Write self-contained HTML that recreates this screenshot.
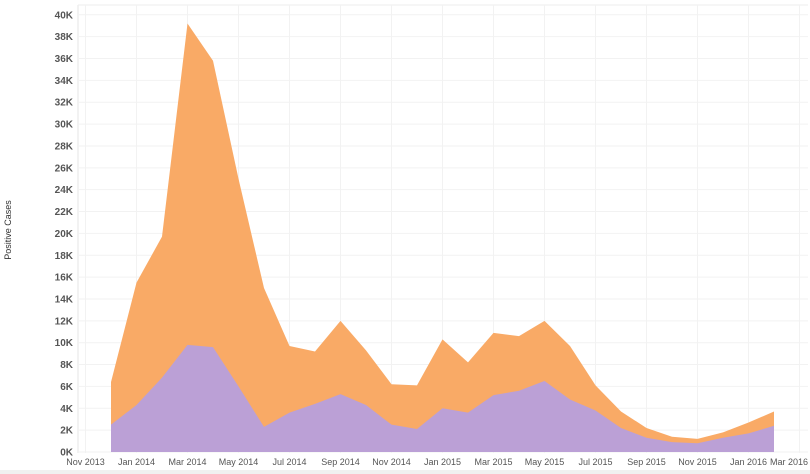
<!DOCTYPE html>
<html><head><style>
html,body{margin:0;padding:0;background:#fff;}
svg{display:block;font-family:"Liberation Sans",sans-serif;}
</style></head><body>
<svg id="c" width="810" height="474" xmlns="http://www.w3.org/2000/svg">
<text x="11" y="230" transform="rotate(-90 11 230)" text-anchor="middle" font-size="9" fill="#333">Positive Cases</text>
<line x1="78" y1="5" x2="78" y2="453" stroke="#e6e6e6"/>
<line x1="78" y1="5" x2="808" y2="5" stroke="#eee"/>
<g id="grid"></g>
<g id="areas"></g>
<g id="lab" font-size="10" fill="#555"></g>
<rect x="0" y="470" width="810" height="4" fill="#f0f0f0"/>
</svg>
<script>
var ns="http://www.w3.org/2000/svg";
function el(t,a,p,txt){var e=document.createElementNS(ns,t);for(var k in a)e.setAttribute(k,a[k]);if(txt!=null)e.textContent=txt;p.appendChild(e);return e;}
var y0=452,sk=10.93;function Y(v){return y0-v*sk;}
var x0=111,dx=25.5;function X(i){return x0+i*dx;}
var g=document.getElementById('grid'),l=document.getElementById('lab'),a=document.getElementById('areas');
for(var k=0;k<=40;k+=2){var y=Y(k);el('line',{x1:78,y1:y,x2:808,y2:y,stroke:'#f2f2f2'},g);el('text',{x:73,y:y+3.5,'text-anchor':'end','font-weight':'bold'},l,k+'K');}
var months=['Nov 2013','Jan 2014','Mar 2014','May 2014','Jul 2014','Sep 2014','Nov 2014','Jan 2015','Mar 2015','May 2015','Jul 2015','Sep 2015','Nov 2015','Jan 2016','Mar 2016'];
for(var i=0;i<months.length;i++){var x=X(-1+2*i);el('line',{x1:x,y1:5,x2:x,y2:453,stroke:'#f2f2f2'},g);
el('text',{x:(i==14?789:x),y:465,'text-anchor':'middle','font-size':'9'},l,months[i]);}
var tot=[6.4,15.5,19.7,39.2,35.8,25,15,9.7,9.2,12,9.3,6.2,6.1,10.3,8.2,10.9,10.6,12,9.7,6.1,3.7,2.2,1.4,1.2,1.8,2.7,3.7];
var pur=[2.5,4.3,6.8,9.8,9.6,6,2.3,3.6,4.4,5.3,4.3,2.5,2.1,4,3.6,5.2,5.6,6.5,4.8,3.8,2.2,1.3,0.9,0.8,1.3,1.7,2.4];
function poly(arr,c){var p='M'+X(0)+','+y0;arr.forEach(function(v,i){p+=' L'+X(i)+','+Y(v);});p+=' L'+X(arr.length-1)+','+y0+'Z';el('path',{d:p,fill:c},a);}
poly(tot,'#f9aa66');poly(pur,'#bba0d6');
</script>
</body></html>
